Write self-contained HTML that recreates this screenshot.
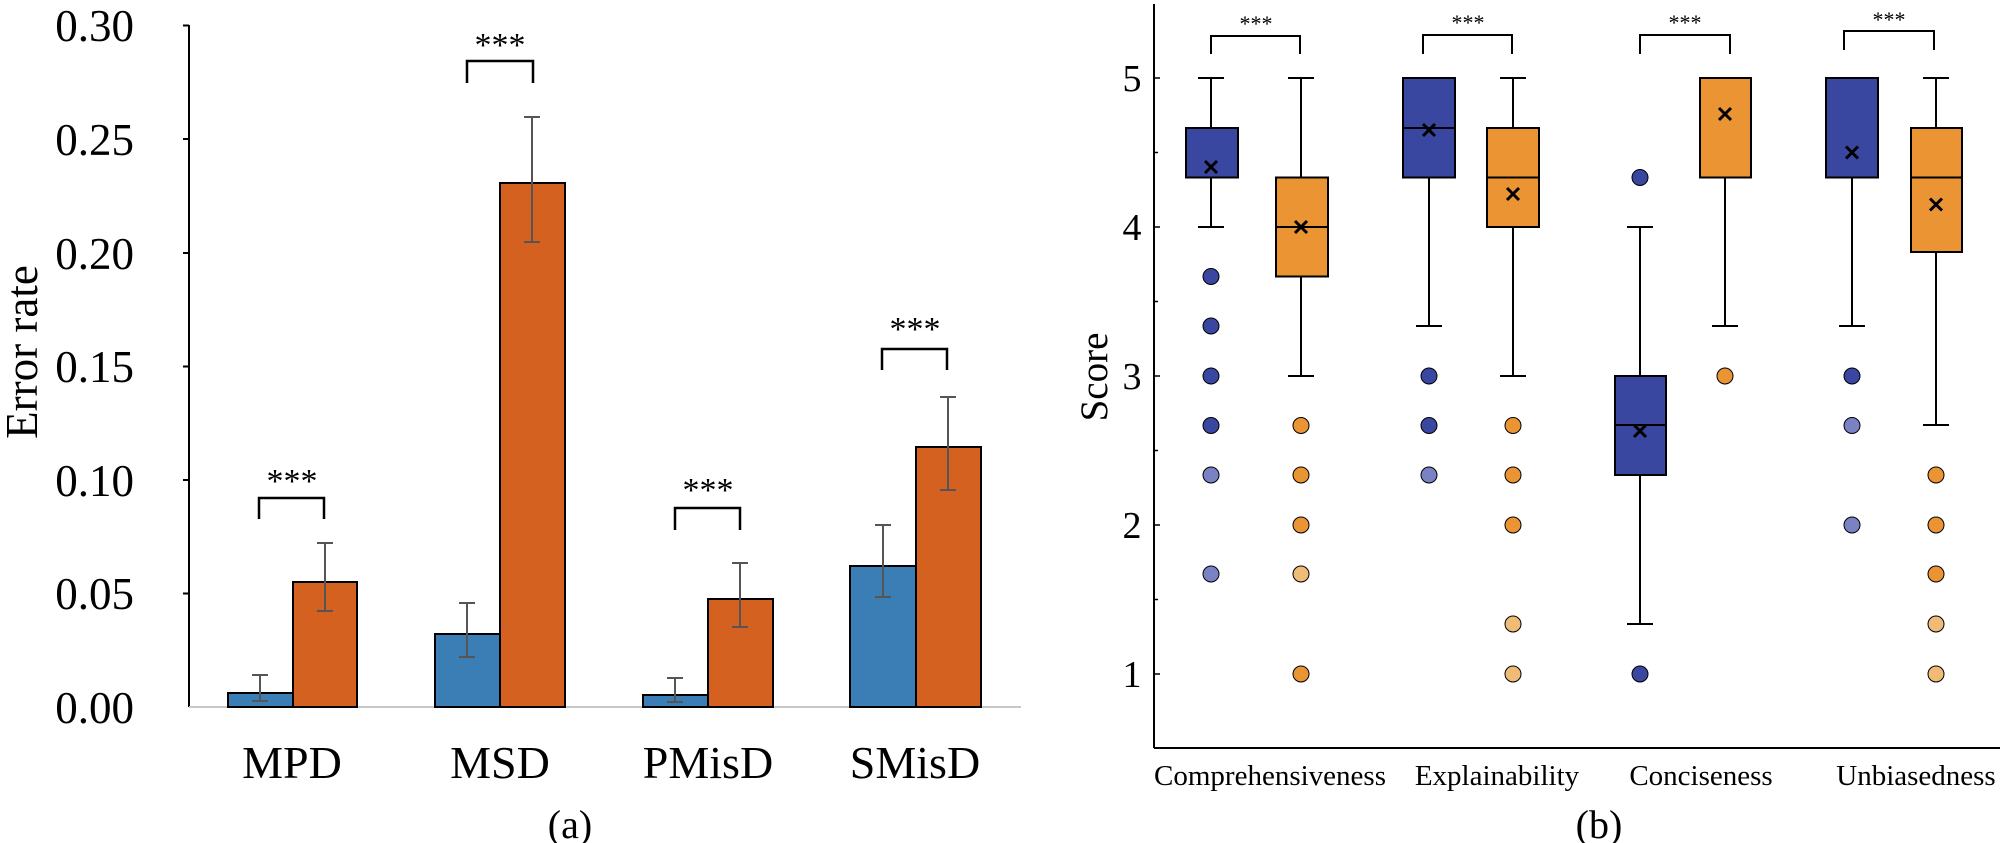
<!DOCTYPE html>
<html><head><meta charset="utf-8"><style>
html,body{margin:0;padding:0;background:#fff;}
svg{display:block;font-family:"Liberation Serif",serif;}
</style></head><body>
<svg width="2000" height="843" viewBox="0 0 2000 843" xmlns="http://www.w3.org/2000/svg">
<!-- LEFT CHART -->
<line x1="189" y1="25" x2="189" y2="707" stroke="#000" stroke-width="2"/>
<line x1="189" y1="707" x2="1021" y2="707" stroke="#c8c8c8" stroke-width="2"/>
<g stroke="#000" stroke-width="2">
<line x1="183" y1="25.5" x2="189" y2="25.5"/><line x1="183" y1="139" x2="189" y2="139"/>
<line x1="183" y1="253" x2="189" y2="253"/><line x1="183" y1="366.5" x2="189" y2="366.5"/>
<line x1="183" y1="480" x2="189" y2="480"/><line x1="183" y1="593.5" x2="189" y2="593.5"/>
</g>
<g font-size="45" text-anchor="end" fill="#000">
<text x="134" y="41">0.30</text><text x="134" y="155">0.25</text><text x="134" y="269">0.20</text>
<text x="134" y="382">0.15</text><text x="134" y="496">0.10</text><text x="134" y="609">0.05</text>
<text x="134" y="723">0.00</text>
</g>
<text transform="translate(37,352) rotate(-90)" font-size="45" text-anchor="middle">Error rate</text>
<g stroke="#000" stroke-width="2">
<rect x="228" y="693" width="65" height="14" fill="#3b7db5"/>
<rect x="293" y="582" width="64" height="125" fill="#d4611f"/>
<rect x="435" y="634" width="65" height="73" fill="#3b7db5"/>
<rect x="500" y="183" width="65" height="524" fill="#d4611f"/>
<rect x="643" y="695" width="65" height="12" fill="#3b7db5"/>
<rect x="708" y="599" width="65" height="108" fill="#d4611f"/>
<rect x="850" y="566" width="66" height="141" fill="#3b7db5"/>
<rect x="916" y="447" width="65" height="260" fill="#d4611f"/>
</g>
<g stroke="#555" stroke-width="2" fill="none">
<path d="M260 675V701M252 675H268M252 701H268"/>
<path d="M325 543V611M317 543H333M317 611H333"/>
<path d="M467 603V657M459 603H475M459 657H475"/>
<path d="M532 117V242M524 117H540M524 242H540"/>
<path d="M675 678V702M667 678H683M667 702H683"/>
<path d="M740 563V627M732 563H748M732 627H748"/>
<path d="M883 525V597M875 525H891M875 597H891"/>
<path d="M948 397V490M940 397H956M940 490H956"/>
</g>
<g stroke="#000" stroke-width="2.5" fill="none">
<path d="M259 519V498H324V519"/>
<path d="M467 83V61H533V83"/>
<path d="M675 530V508H740V530"/>
<path d="M882 370V349H947V370"/>
</g>
<g font-size="34" text-anchor="middle">
<text x="292" y="492">***</text><text x="500" y="56">***</text>
<text x="708" y="501">***</text><text x="915" y="340">***</text>
</g>
<g font-size="46" text-anchor="middle">
<text x="292" y="778">MPD</text><text x="500" y="778">MSD</text>
<text x="708" y="778">PMisD</text><text x="915" y="778">SMisD</text>
</g>
<text x="570" y="838" font-size="40" text-anchor="middle">(a)</text>

<!-- RIGHT CHART -->
<line x1="1154" y1="4" x2="1154" y2="748" stroke="#000" stroke-width="2"/>
<line x1="1154" y1="748" x2="2000" y2="748" stroke="#000" stroke-width="2"/>
<g stroke="#000" stroke-width="1.5">
<line x1="1154" y1="78" x2="1160" y2="78"/><line x1="1154" y1="152.5" x2="1158" y2="152.5"/>
<line x1="1154" y1="227" x2="1160" y2="227"/><line x1="1154" y1="301.5" x2="1158" y2="301.5"/>
<line x1="1154" y1="376" x2="1160" y2="376"/><line x1="1154" y1="450.5" x2="1158" y2="450.5"/>
<line x1="1154" y1="525" x2="1160" y2="525"/><line x1="1154" y1="599.5" x2="1158" y2="599.5"/>
<line x1="1154" y1="674" x2="1160" y2="674"/>
</g>
<g font-size="38" text-anchor="middle">
<text x="1132" y="91">5</text><text x="1132" y="240">4</text><text x="1132" y="389">3</text>
<text x="1132" y="538">2</text><text x="1132" y="687">1</text>
</g>
<text transform="translate(1107,377) rotate(-90)" font-size="39" text-anchor="middle">Score</text>
<g font-size="29" text-anchor="middle">
<text x="1270" y="785">Comprehensiveness</text><text x="1497" y="785">Explainability</text>
<text x="1701" y="785">Conciseness</text><text x="1916" y="785">Unbiasedness</text>
</g>
<text x="1599" y="838" font-size="40" text-anchor="middle">(b)</text>
<g stroke="#000" stroke-width="2" fill="none">
<path d="M1211 54V36H1300V54"/><path d="M1423 54V35H1512V54"/>
<path d="M1640 54V35H1730V54"/><path d="M1844 50V31H1934V50"/>
</g>
<g font-size="22" text-anchor="middle">
<text x="1256" y="31">***</text><text x="1468" y="30">***</text>
<text x="1685" y="30">***</text><text x="1889" y="27">***</text>
</g>
<!-- whiskers -->
<g stroke="#000" stroke-width="2" fill="none">
<path d="M1211 227V78M1198 78H1224M1198 227H1224"/>
<path d="M1301 376V78M1288 78H1314M1288 376H1314"/>
<path d="M1429 326V78M1416 78H1442M1416 326H1442"/>
<path d="M1513 376V78M1500 78H1526M1500 376H1526"/>
<path d="M1640 624V227M1627 227H1653M1627 624H1653"/>
<path d="M1725 326V78M1712 78H1738M1712 326H1738"/>
<path d="M1852 326V78M1839 78H1865M1839 326H1865"/>
<path d="M1936 425V78M1923 78H1949M1923 425H1949"/>
</g>
<!-- boxes -->
<g stroke="#000" stroke-width="2">
<rect x="1186" y="128" width="52" height="49.5" fill="#3a47a0"/>
<rect x="1276" y="177.5" width="52" height="99" fill="#ea9433"/>
<rect x="1403" y="78" width="52" height="99.5" fill="#3a47a0"/>
<rect x="1487" y="128" width="52" height="99" fill="#ea9433"/>
<rect x="1615" y="376" width="51" height="99" fill="#3a47a0"/>
<rect x="1700" y="78" width="51" height="99.5" fill="#ea9433"/>
<rect x="1826" y="78" width="52" height="99.5" fill="#3a47a0"/>
<rect x="1911" y="128" width="51" height="124" fill="#ea9433"/>
</g>
<g stroke="#000" stroke-width="2">
<line x1="1276" y1="227" x2="1328" y2="227"/><line x1="1403" y1="128" x2="1455" y2="128"/>
<line x1="1487" y1="177.5" x2="1539" y2="177.5"/><line x1="1615" y1="425" x2="1666" y2="425"/>
<line x1="1911" y1="177.5" x2="1962" y2="177.5"/>
</g>
<!-- means -->
<g stroke="#000" stroke-width="3" fill="none">
<path d="M1205 161l12 12M1217 161l-12 12"/>
<path d="M1295 221l12 12M1307 221l-12 12"/>
<path d="M1423 124l12 12M1435 124l-12 12"/>
<path d="M1507 188l12 12M1519 188l-12 12"/>
<path d="M1634 425l12 12M1646 425l-12 12"/>
<path d="M1719 108l12 12M1731 108l-12 12"/>
<path d="M1846 146.5l12 12M1858 146.5l-12 12"/>
<path d="M1930 198.5l12 12M1942 198.5l-12 12"/>
</g>
<!-- outliers -->
<g stroke="#000" stroke-width="1">
<g fill="#3a47a0">
<circle cx="1211" cy="276.5" r="8"/><circle cx="1211" cy="326" r="8"/><circle cx="1211" cy="376" r="8"/><circle cx="1211" cy="425.5" r="8"/>
<circle cx="1429" cy="376" r="8"/><circle cx="1429" cy="425.5" r="8"/>
<circle cx="1640" cy="177.5" r="8"/><circle cx="1640" cy="674" r="8"/>
<circle cx="1852" cy="376" r="8"/>
</g>
<g fill="#7a82c4">
<circle cx="1211" cy="475" r="8"/><circle cx="1211" cy="574" r="8"/>
<circle cx="1429" cy="475" r="8"/>
<circle cx="1852" cy="425.5" r="8"/><circle cx="1852" cy="525" r="8"/>
</g>
<g fill="#ea9433">
<circle cx="1301" cy="425.5" r="8"/><circle cx="1301" cy="475" r="8"/><circle cx="1301" cy="525" r="8"/><circle cx="1301" cy="674" r="8"/>
<circle cx="1513" cy="425.5" r="8"/><circle cx="1513" cy="475" r="8"/><circle cx="1513" cy="525" r="8"/>
<circle cx="1725" cy="376" r="8"/>
<circle cx="1936" cy="475" r="8"/><circle cx="1936" cy="525" r="8"/><circle cx="1936" cy="574" r="8"/>
</g>
<g fill="#f0bb77">
<circle cx="1301" cy="574" r="8"/>
<circle cx="1513" cy="624" r="8"/><circle cx="1513" cy="674" r="8"/>
<circle cx="1936" cy="624" r="8"/><circle cx="1936" cy="674" r="8"/>
</g>
</g>
</svg>
</body></html>
